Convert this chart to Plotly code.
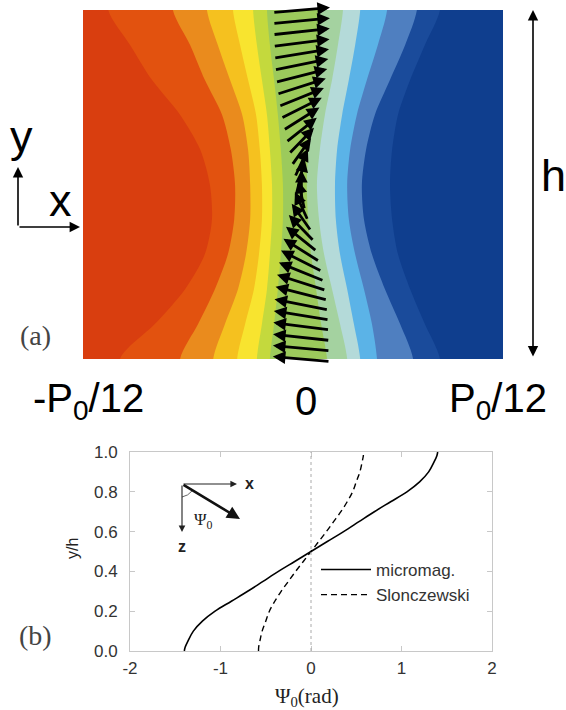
import math
import plotly.graph_objects as go

# ---------------- DATA ----------------
# Panel (a): boundaries between colour bands of the stray-field map.
# x given as fraction of the panel width, sampled at heights y/h = band_y
band_y = [0.0, 0.1, 0.2, 0.3, 0.4, 0.5, 0.6, 0.7, 0.8, 0.9, 1.0]
band_bounds = [
    [0.088, 0.171, 0.243, 0.290, 0.307, 0.302, 0.279, 0.231, 0.164, 0.112, 0.060],
    [0.231, 0.274, 0.314, 0.345, 0.360, 0.362, 0.352, 0.331, 0.290, 0.255, 0.214],
    [0.310, 0.338, 0.369, 0.388, 0.398, 0.398, 0.393, 0.379, 0.350, 0.321, 0.295],
    [0.367, 0.386, 0.407, 0.419, 0.426, 0.426, 0.421, 0.412, 0.393, 0.374, 0.357],
    [0.414, 0.426, 0.438, 0.445, 0.450, 0.450, 0.445, 0.438, 0.426, 0.414, 0.405],
    [0.445, 0.455, 0.464, 0.471, 0.476, 0.476, 0.471, 0.464, 0.455, 0.445, 0.438],
    [0.581, 0.567, 0.555, 0.543, 0.536, 0.533, 0.536, 0.543, 0.552, 0.560, 0.564],
    [0.629, 0.612, 0.593, 0.574, 0.562, 0.557, 0.564, 0.576, 0.593, 0.607, 0.619],
    [0.660, 0.645, 0.629, 0.612, 0.602, 0.600, 0.605, 0.617, 0.633, 0.648, 0.660],
    [0.700, 0.688, 0.669, 0.648, 0.633, 0.629, 0.636, 0.652, 0.676, 0.702, 0.724],
    [0.786, 0.755, 0.719, 0.688, 0.669, 0.664, 0.674, 0.695, 0.731, 0.767, 0.795],
    [0.850, 0.814, 0.779, 0.750, 0.736, 0.731, 0.736, 0.750, 0.779, 0.814, 0.850],
]
band_colors = ["#d93e0f", "#e2520f", "#ea8b1d", "#f5c11f", "#f8e42f", "#c4d93d",
               "#9cca5c", "#a4d2a0", "#b4dad9", "#5bb3e7", "#4f7fc0", "#1a4b9b", "#0f3e8e"]
panel_a_labels = ["-P<sub>0</sub>/12", "0", "P<sub>0</sub>/12"]

# magnetisation arrows along the wall: height y/h and in-plane angle psi (rad)
arrow_y = [0.000, 0.031, 0.062, 0.094, 0.125, 0.156, 0.188, 0.219, 0.250, 0.281, 0.312,
           0.344, 0.375, 0.406, 0.438, 0.469, 0.500, 0.531, 0.562, 0.594, 0.625, 0.656,
           0.688, 0.719, 0.750, 0.781, 0.812, 0.844, 0.875, 0.906, 0.938, 0.969, 1.000]
arrow_psi = [-1.40, -1.385, -1.36, -1.32, -1.26, -1.19, -1.10, -1.00, -0.89, -0.78, -0.67,
             -0.56, -0.45, -0.34, -0.225, -0.11, 0.0, 0.11, 0.225, 0.34, 0.45, 0.56,
             0.67, 0.78, 0.89, 1.00, 1.10, 1.19, 1.26, 1.32, 1.36, 1.385, 1.40]

# Panel (b): wall twist profiles
y_h = [0.0, 0.02, 0.05, 0.1, 0.15, 0.2, 0.25, 0.3, 0.35, 0.4, 0.45, 0.5,
       0.55, 0.6, 0.65, 0.7, 0.75, 0.8, 0.85, 0.9, 0.95, 0.98, 1.0]
psi_micromag = [-1.40, -1.39, -1.36, -1.30, -1.20, -1.06, -0.88, -0.70, -0.53, -0.36, -0.18, 0.0,
                0.18, 0.36, 0.53, 0.70, 0.88, 1.06, 1.20, 1.30, 1.36, 1.39, 1.40]
psi_slonczewski = [-0.58, -0.578, -0.565, -0.54, -0.50, -0.46, -0.40, -0.33, -0.25, -0.17, -0.085, 0.0,
                   0.085, 0.17, 0.25, 0.33, 0.40, 0.46, 0.50, 0.54, 0.565, 0.578, 0.58]
series_names = ["micromag.", "Slonczewski"]
x_ticks_b = [-2, -1, 0, 1, 2]
y_ticks_b = [0.0, 0.2, 0.4, 0.6, 0.8, 1.0]

# ---------------- LAYOUT GEOMETRY ----------------
W, H = 566, 710
def px(x):
    return x / W
def py(y):
    return 1 - y / H

dom_ax = [px(83), px(503)]
dom_ay = [py(359), py(10)]
dom_bx = [px(130), px(492)]
dom_by = [py(651), py(452)]
ext_lo, ext_hi = 0.05, 0.02
span = dom_ay[1] - dom_ay[0]
dom_ay3 = [dom_ay[0] - ext_lo * span, dom_ay[1] + ext_hi * span]

fig = go.Figure()

fig.add_trace(go.Scatter(x=[-0.3, 1.3, 1.3, -0.3, -0.3], y=[-0.2, -0.2, 1.2, 1.2, -0.2],
                         fill="toself", fillcolor=band_colors[-1], mode="lines",
                         line=dict(width=0), hoverinfo="skip", showlegend=False,
                         xaxis="x", yaxis="y"))
for i in range(len(band_bounds) - 1, -1, -1):
    bx = band_bounds[i]
    xs = [-0.3, bx[0]] + list(bx) + [bx[-1], -0.3, -0.3]
    ys = [-0.15, -0.15] + list(band_y) + [1.15, 1.15, -0.15]
    fig.add_trace(go.Scatter(x=xs, y=ys, fill="toself", fillcolor=band_colors[i],
                             mode="lines", line=dict(width=0, shape="spline", smoothing=0.8),
                             hoverinfo="skip", showlegend=False, xaxis="x", yaxis="y"))

fig.add_trace(go.Scatter(x=[None], y=[None], xaxis="x", yaxis="y3", showlegend=False,
                         hoverinfo="skip"))

fig.add_trace(go.Scatter(x=psi_micromag, y=y_h, mode="lines", name=series_names[0],
                         line=dict(color="black", width=1.6, shape="spline"),
                         xaxis="x2", yaxis="y2"))
fig.add_trace(go.Scatter(x=psi_slonczewski, y=y_h, mode="lines", name=series_names[1],
                         line=dict(color="black", width=1.4, dash="6px,4px", shape="spline"),
                         xaxis="x2", yaxis="y2"))

annotations = []
pw = (dom_ax[1] - dom_ax[0]) * W
ph = (dom_ay[1] - dom_ay[0]) * H
LX, LZ = 58.0, 29.0
CX = 0.52
for yy, ps in zip(arrow_y, arrow_psi):
    dx = LX * math.sin(ps) / pw
    dy = LZ * math.cos(ps) / ph
    annotations.append(dict(x=CX + dx / 2, y=yy + dy / 2, ax=CX - dx / 2, ay=yy - dy / 2,
                            xref="x", yref="y3", axref="x", ayref="y3", text="",
                            showarrow=True, arrowhead=2, arrowsize=0.9, arrowwidth=2.8,
                            arrowcolor="black", standoff=0, startstandoff=0))


def label(text, x, y, font, **kw):
    d = dict(x=px(x), y=py(y), xref="paper", yref="paper", text=text, showarrow=False,
             font=font, xanchor="center", yanchor="middle")
    d.update(kw)
    return d


def arrow(xh, yh, axp, ayp, width, size, color="black", **kw):
    d = dict(x=px(xh), y=py(yh), xref="paper", yref="paper", ax=axp, ay=ayp, text="",
             showarrow=True, arrowhead=2, arrowsize=size, arrowwidth=width, arrowcolor=color)
    d.update(kw)
    return d


big = dict(family="Liberation Sans, Arial", size=40, color="black")
for lab, xc in zip(panel_a_labels, [88, 306, 498]):
    annotations.append(label(lab, xc, 401, big))
letter = dict(family="Liberation Sans, Arial", size=45, color="black")
serif_lab = dict(family="Liberation Serif", size=28, color="#444")
small_b = dict(family="Liberation Sans, Arial", size=16, color="#222")
annotations += [
    label("y", 21, 137, letter),
    label("x", 60, 200, letter),
    label("h", 553, 175, letter),
    arrow(18, 167, 0, 60, 1.6, 1.3),
    arrow(80, 227, -62, 0, 1.6, 1.3),
    arrow(533, 10, 0, 348, 1.6, 1.3, arrowside="end+start"),
    label("(a)", 35, 335, serif_lab),
    label("(b)", 35, 635, serif_lab),
    label("Ψ<sub>0</sub>(rad)", 307, 697, dict(family="Liberation Serif", size=21, color="#222")),
    label("y/h", 72, 549, small_b, textangle=-90),
    arrow(237, 484, -55, 0, 1.1, 1.2, "#222"),
    arrow(182, 532, 0, -48, 1.1, 1.2, "#222"),
    arrow(240, 519, -58, -35, 2.6, 1.0, "#111"),
    label("<b>x</b>", 250, 483, small_b),
    label("<b>z</b>", 182, 546, small_b),
    label("Ψ<sub>0</sub>", 203, 521, dict(family="Liberation Serif", size=17, color="#222")),
]

shapes = [
    dict(type="line", xref="x2", yref="y2 domain", x0=0, x1=0, y0=0, y1=1,
         line=dict(color="#aaaaaa", width=1, dash="3px,3px")),
    dict(type="path", xref="paper", yref="paper",
         path=f"M {px(182)},{py(497)} Q {px(188)},{py(496)} {px(192.5)},{py(490.5)}",
         line=dict(color="#666", width=1)),
]

axis_common = dict(automargin=False, fixedrange=True)
fig.update_layout(
    template="none",
    width=W, height=H, margin=dict(l=0, r=0, t=0, b=0, autoexpand=False),
    paper_bgcolor="white", plot_bgcolor="rgba(0,0,0,0)",
    xaxis=dict(domain=dom_ax, range=[0, 1], visible=False, anchor="y", **axis_common),
    yaxis=dict(domain=dom_ay, range=[0, 1], visible=False, anchor="x", **axis_common),
    yaxis3=dict(domain=dom_ay3, range=[-ext_lo, 1 + ext_hi], visible=False, anchor="x",
                **axis_common),
    xaxis2=dict(domain=dom_bx, range=[-2, 2], anchor="y2", tickvals=x_ticks_b,
                ticktext=[str(v) for v in x_ticks_b],
                showline=True, mirror="ticks", linecolor="#c8c8c8", linewidth=1,
                ticks="inside", ticklen=5, tickcolor="#c8c8c8", showgrid=False, zeroline=False,
                tickfont=dict(family="Liberation Sans, Arial", size=17, color="#333"),
                ticklabelstandoff=2, **axis_common),
    yaxis2=dict(domain=dom_by, range=[0, 1], anchor="x2", tickvals=y_ticks_b,
                ticktext=[f"{v:.1f}" for v in y_ticks_b],
                showline=True, mirror="ticks", linecolor="#c8c8c8", linewidth=1,
                ticks="inside", ticklen=5, tickcolor="#c8c8c8", showgrid=False, zeroline=False,
                tickfont=dict(family="Liberation Sans, Arial", size=17, color="#333"),
                ticklabelstandoff=8, **axis_common),
    legend=dict(x=px(316), y=py(552), xanchor="left", yanchor="top", bgcolor="rgba(0,0,0,0)",
                font=dict(family="Liberation Sans, Arial", size=17, color="#333"),
                itemwidth=50, tracegroupgap=0, borderwidth=0),
    annotations=annotations, shapes=shapes,
)

fig.write_html("out.html")
